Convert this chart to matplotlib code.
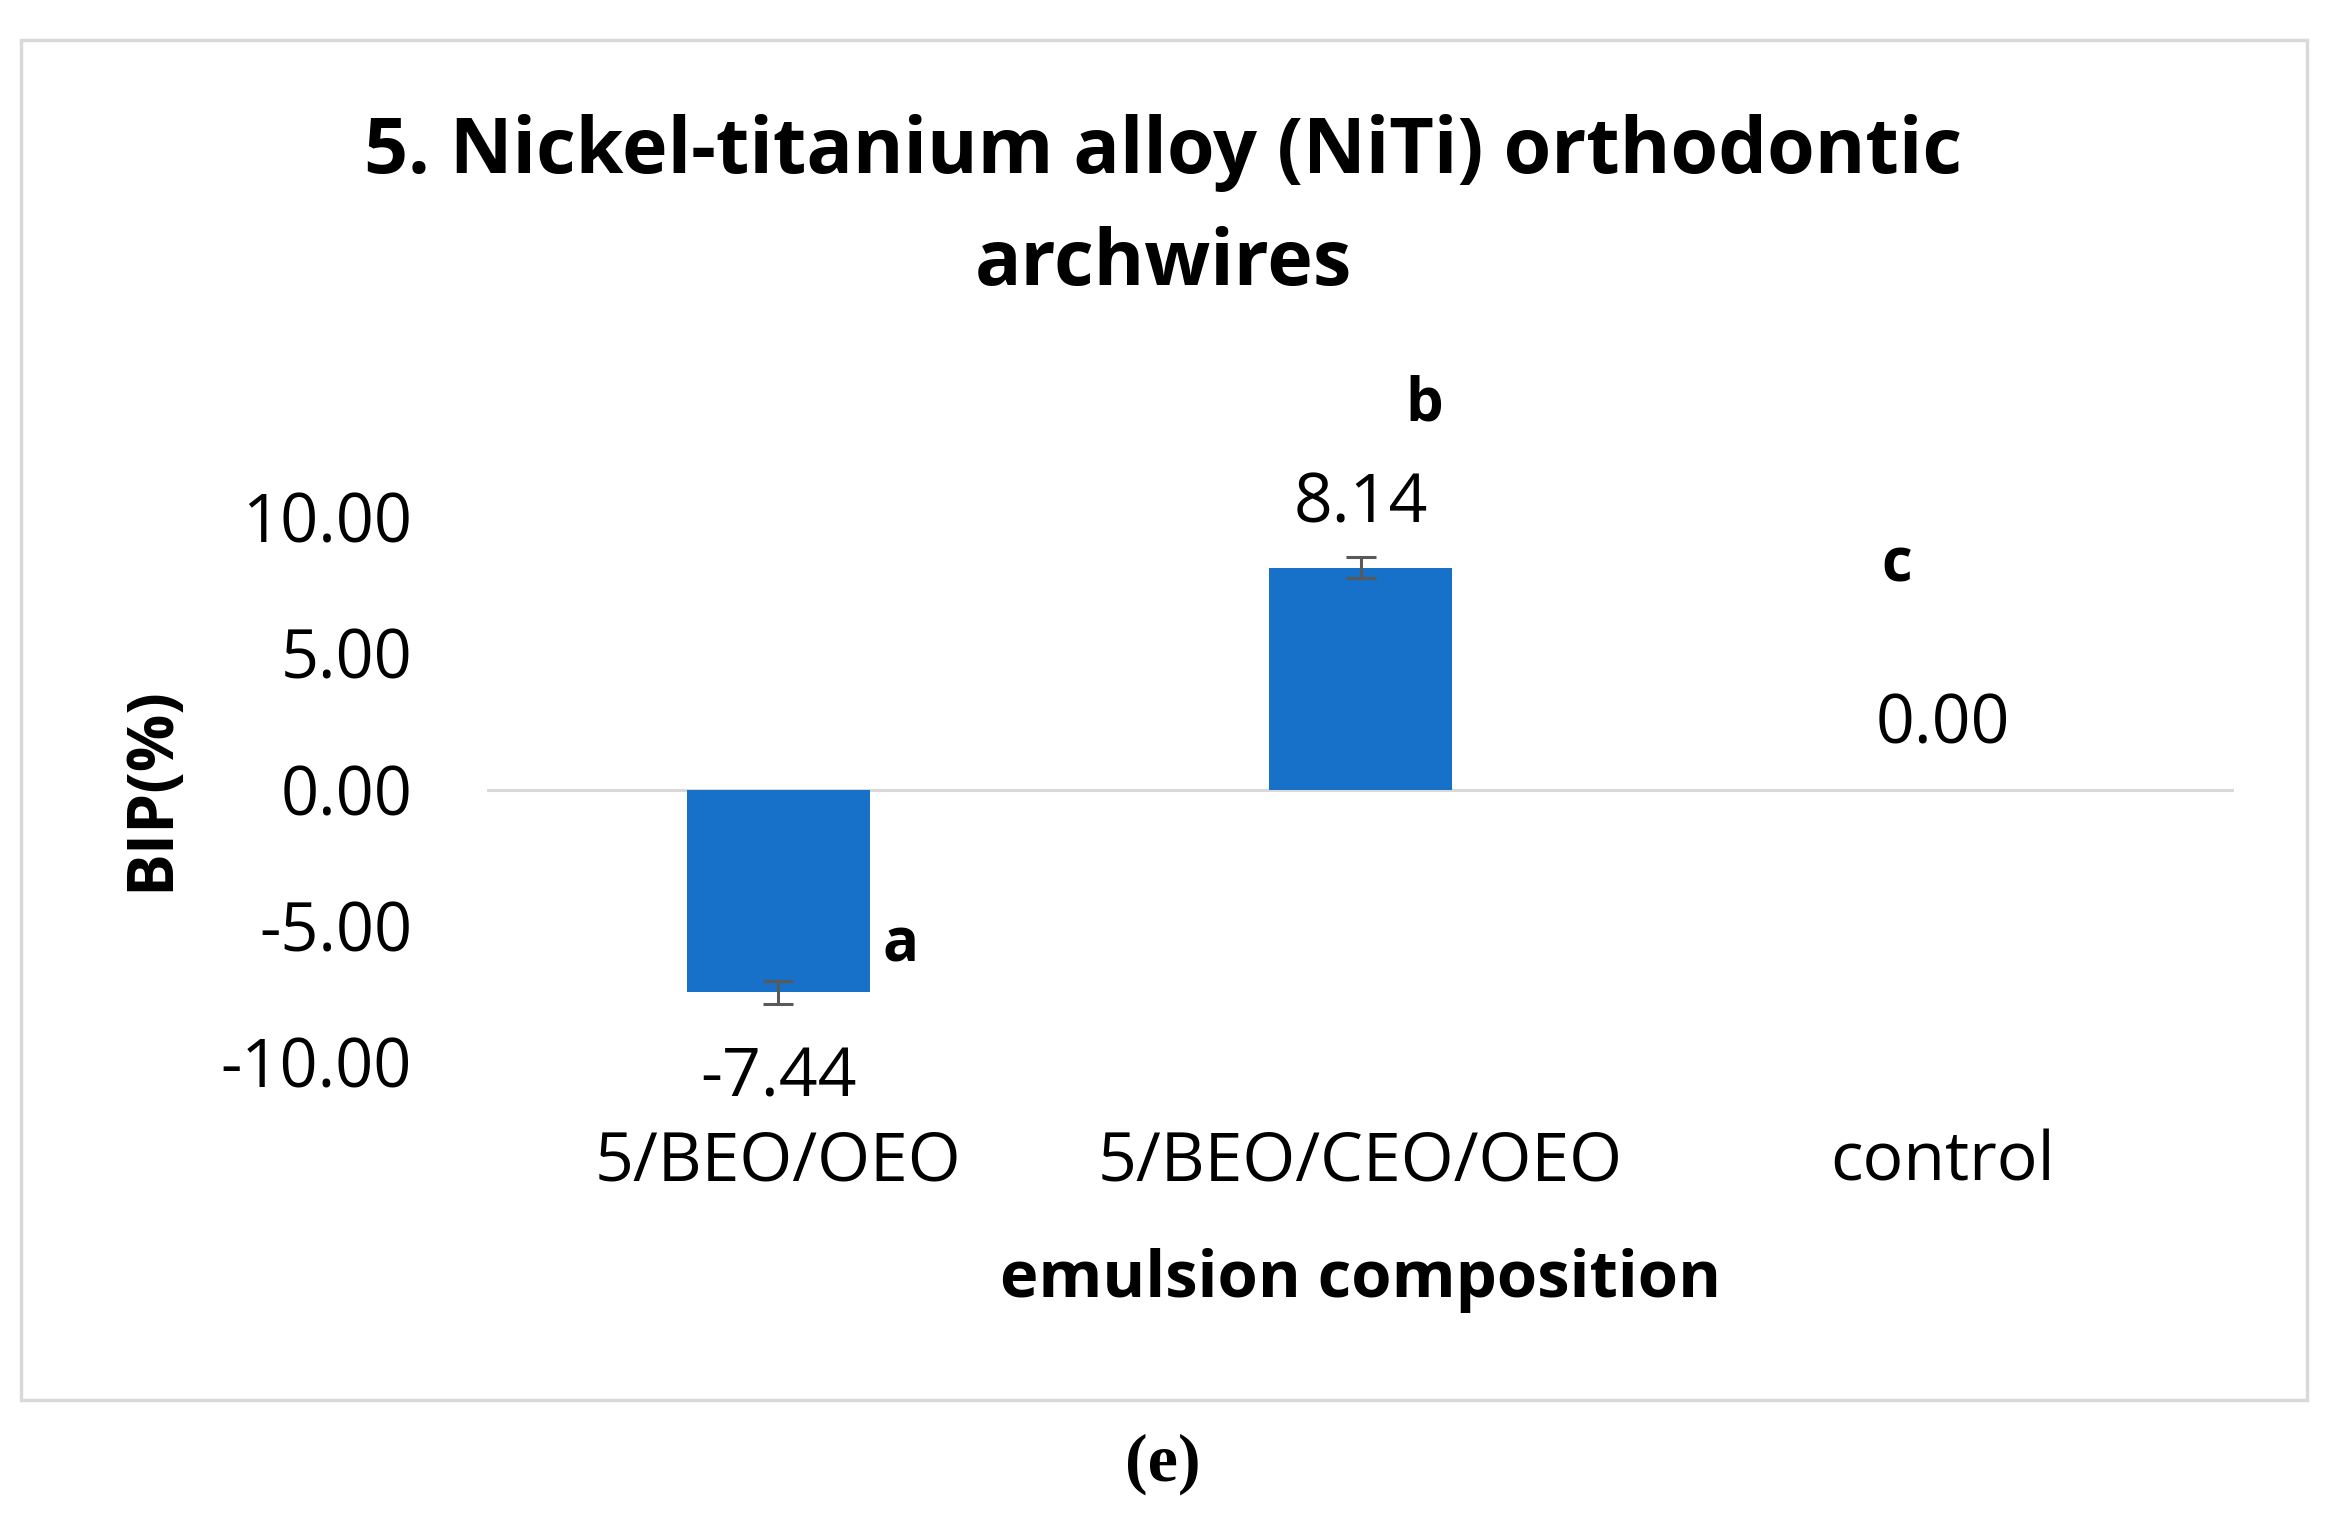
'''
    BIP(%) for NiTi orthodontic archwires by emulsion composition
'''

# - Imports

import matplotlib
matplotlib.use("Agg")
import matplotlib.pyplot as plt
from matplotlib.patches import Rectangle

# - Data

categories = ["5/BEO/OEO", "5/BEO/CEO/OEO", "control"]
bip_values = [-7.44, 8.14, 0.00]
bip_errors = [0.42, 0.39, 0.0]
group_letters = ["a", "b", "c"]
value_labels = ["-7.44", "8.14", "0.00"]
ytick_values = [-10, -5, 0, 5, 10]
ytick_labels = ["-10.00", "-5.00", "0.00", "5.00", "10.00"]

# - Plot

plt.rcParams["font.family"] = ["Open Sans", "DejaVu Sans"]

fig = plt.figure(figsize=(23.35, 15.24), dpi=100)
ax = fig.add_axes([0.2086, 0.3031, 0.7482, 0.3577])

x = list(range(len(categories)))

# Bars with error bars
ax.bar(x, bip_values, width=0.314, color="#1771c9", linewidth=0, zorder=2)
ax.errorbar(x[:2], bip_values[:2], yerr=bip_errors[:2], fmt="none", ecolor="#595959",
            elinewidth=2.2, capsize=10.8, capthick=2.2, zorder=3)

# Zero line
ax.axhline(0, color="#d9d9d9", linewidth=2.2, zorder=1)

ax.set_xlim(-0.5, 2.5)
ax.set_ylim(-10, 10)

for side in ax.spines.values():
    side.set_visible(False)
ax.set_xticks([])
ax.set_yticks(ytick_values)
ax.set_yticklabels(ytick_labels, fontsize=48)
ax.tick_params(axis="y", length=0, pad=54)

# Value labels and group letters
value_y = [-10.6, 10.45, 2.35]
letter_pos = [(0.21, -5.75), (0.11, 14.1), (-0.08, 8.2)]
for i in x:
    ax.text(i, value_y[i], value_labels[i], ha="center", va="center", fontsize=49, clip_on=False)
    lx, ly = letter_pos[i]
    ax.text(i + lx, ly, group_letters[i], ha="center", va="center", fontsize=43,
            fontweight="bold", clip_on=False)

# Category labels
for i in x:
    ax.text(i, -13.68, categories[i], ha="center", va="center", fontsize=49, clip_on=False)

# Axis titles
ax.text(1, -18.0, "emulsion composition", ha="center", va="center", fontsize=47,
        fontweight="bold", clip_on=False)
fig.text(152 / 2335, 1 - 789 / 1524, "BIP(%)", rotation=90, ha="center", va="center",
         fontsize=46, fontweight="bold")

# Chart title
fig.text(1163 / 2335, 1 - 153 / 1524, "5. Nickel-titanium alloy (NiTi) orthodontic",
         ha="center", va="center", fontsize=55.5, fontweight="bold")
fig.text(1163 / 2335, 1 - 265 / 1524, "archwires", ha="center", va="center",
         fontsize=55.5, fontweight="bold")

# Chart frame
fig.patches.append(Rectangle((21 / 2335, 1 - 1400 / 1524), (2307 - 21) / 2335, (1400 - 40) / 1524,
                             transform=fig.transFigure, fill=False, edgecolor="#d9d9d9",
                             linewidth=2.5))

# Panel caption
fig.text(1163 / 2335, 1 - 1464 / 1524, "(e)", ha="center", va="center", fontsize=49,
         fontweight="bold", family="Liberation Serif")

fig.savefig("out.png", dpi=100, facecolor="white")
